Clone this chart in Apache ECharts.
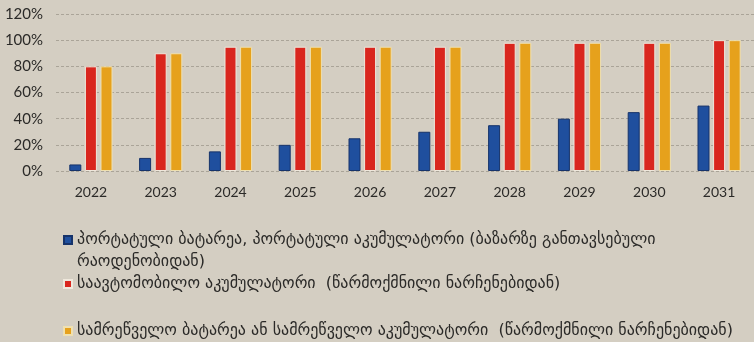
<!DOCTYPE html>
<html>
<head>
<meta charset="utf-8">
<script src="https://cdn.jsdelivr.net/npm/echarts@6/dist/echarts.min.js"></script>
<style>
  html, body { margin: 0; padding: 0; background: #d4cec2; }
  #chart { width: 754px; height: 342px; }
</style>
</head>
<body>
<div id="chart"></div>
<script>
// Years on the category axis
const years = ['2022', '2023', '2024', '2025', '2026', '2027', '2028', '2029', '2030', '2031'];

// Collection targets, percent
const portableValues = [5, 10, 15, 20, 25, 30, 35, 40, 45, 50];
const automotiveValues = [80, 90, 95, 95, 95, 95, 98, 98, 98, 100];
const industrialValues = [80, 90, 95, 95, 95, 95, 98, 98, 98, 100];

// Series names (legend text)
const portableName = 'პორტატული ბატარეა, პორტატული აკუმულატორი (ბაზარზე განთავსებული რაოდენობიდან)';
const portableLines = ['პორტატული ბატარეა, პორტატული აკუმულატორი (ბაზარზე განთავსებული', 'რაოდენობიდან)'];
const automotiveName = 'საავტომობილო აკუმულატორი  (წარმოქმნილი ნარჩენებიდან)';
const industrialName = 'სამრეწველო ბატარეა ან სამრეწველო აკუმულატორი  (წარმოქმნილი ნარჩენებიდან)';

const axisFont = 'Lato, "Open Sans", sans-serif';
const legendFont = '"DejaVu Sans", sans-serif';
const LINE_H = 22;

const chart = echarts.init(document.getElementById('chart'), null, { renderer: 'canvas' });

const legendText = {
  fontFamily: legendFont,
  fontSize: 16,
  color: '#2b2a28',
  lineHeight: LINE_H
};

const legendBase = {
  orient: 'vertical',
  left: 63,
  padding: 0,
  itemWidth: 8,
  itemHeight: 8,
  icon: 'rect',
  textStyle: legendText
};

chart.setOption({
  backgroundColor: '#d4cec2',
  animation: false,
  grid: { left: 56, right: -16, top: 14, height: 157, containLabel: false },
  legend: [
    Object.assign({}, legendBase, {
      top: 240 - LINE_H * 1.5,
      data: [portableName],
      // blank leading line keeps the marker level with the first text line
      formatter: () => '{e| }\n{t|' + portableLines[0] + '}\n{t|' + portableLines[1] + '}',
      textStyle: Object.assign({}, legendText, {
        rich: {
          e: { lineHeight: LINE_H, fontSize: 16, fontFamily: legendFont },
          t: { lineHeight: LINE_H, fontSize: 16, fontFamily: legendFont, color: '#2b2a28' }
        }
      })
    }),
    Object.assign({}, legendBase, { top: 284 - LINE_H / 2, data: [automotiveName] }),
    Object.assign({}, legendBase, { top: 331 - LINE_H / 2, data: [industrialName] })
  ],
  xAxis: {
    type: 'category',
    data: years,
    axisLine: { show: false },
    axisTick: { show: false },
    axisLabel: { fontFamily: axisFont, fontSize: 14, color: '#2b2a28', margin: 14 }
  },
  yAxis: {
    type: 'value',
    min: 0,
    max: 120,
    interval: 20,
    axisLabel: {
      formatter: '{value}%',
      fontFamily: axisFont,
      fontSize: 15,
      color: '#2b2a28',
      margin: 13
    },
    axisLine: { show: false },
    axisTick: { show: false },
    splitLine: { lineStyle: { color: '#aaa498', type: [3, 2], width: 1 } }
  },
  series: [
    {
      name: portableName,
      type: 'bar',
      data: portableValues,
      barWidth: 12,
      barGap: '30%',
      itemStyle: { color: '#1f4f9e', borderColor: '#16336a', borderWidth: 1 }
    },
    {
      name: automotiveName,
      type: 'bar',
      data: automotiveValues,
      barWidth: 12,
      barGap: '30%',
      itemStyle: { color: '#d9261e', borderColor: '#efe8dc', borderWidth: 1 }
    },
    {
      name: industrialName,
      type: 'bar',
      data: industrialValues,
      barWidth: 12,
      barGap: '30%',
      itemStyle: { color: '#e6a11c', borderColor: '#efe0b0', borderWidth: 1 }
    }
  ]
});
</script>
</body>
</html>
